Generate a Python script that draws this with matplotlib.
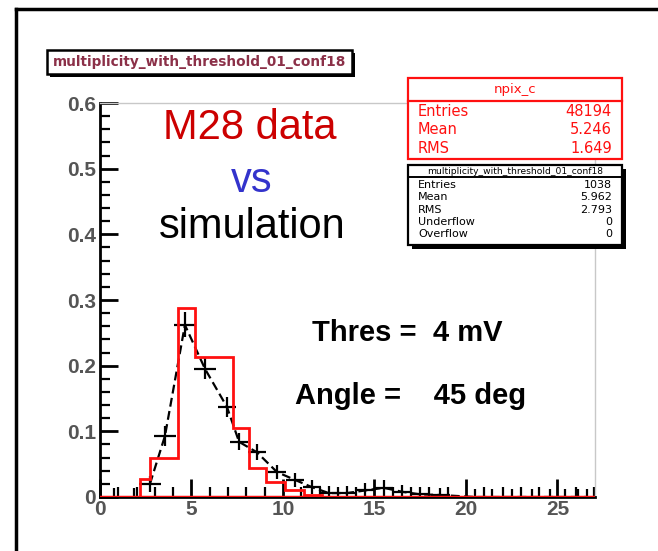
import numpy as np
import matplotlib
matplotlib.use("Agg")
from matplotlib import pyplot as plt
import matplotlib.patches as mpatches
from matplotlib.lines import Line2D

# red histogram (npix_c)
red_edges = [2.2, 2.73, 4.26, 5.19, 7.27, 8.14, 9.07, 10.11, 11.15, 12.13]
red_vals = [0.027, 0.059, 0.288, 0.213, 0.105, 0.044, 0.023, 0.011, 0.003]

# black points (multiplicity_with_threshold_01_conf18)
blk_x = [0.77, 1.86, 2.73, 3.55, 4.64, 5.74, 6.94, 7.6, 8.58, 9.67, 10.66, 11.58,
         12.5, 13.5, 14.5, 15.5, 16.5, 17.5, 18.6, 20.5, 21.4, 22.5, 23.6, 24.6, 25.4, 26.1, 26.6]
blk_y = [0.0, 0.0, 0.02, 0.093, 0.262, 0.195, 0.137, 0.084, 0.068, 0.038, 0.026, 0.015,
         0.006, 0.006, 0.01, 0.014, 0.008, 0.004, 0.003, 0.0, 0.0, 0.0, 0.0, 0.0, 0.0, 0.0, 0.0]
blk_yerr = [0.013, 0.013, 0.012, 0.015, 0.019, 0.016, 0.015, 0.013, 0.012, 0.011, 0.011, 0.011,
            0.011, 0.011, 0.012, 0.012, 0.011, 0.011, 0.011, 0.012, 0.012, 0.012, 0.012, 0.012, 0.012, 0.012, 0.012]
blk_xerr = [0.0, 0.0, 0.6, 0.6, 0.6, 0.6, 0.5, 0.5, 0.5, 0.5, 0.5, 0.5,
            0.5, 0.5, 0.5, 0.5, 0.5, 0.5, 0.5, 0.0, 0.0, 0.0, 0.0, 0.0, 0.0, 0.0, 0.0]

red_stats = [("Entries", "48194"), ("Mean", "5.246"), ("RMS", "1.649")]
blk_stats = [("Entries", "1038"), ("Mean", "5.962"), ("RMS", "2.793"),
             ("Underflow", "0"), ("Overflow", "0")]
hname = "multiplicity_with_threshold_01_conf18"

W, H = 658, 551
fig = plt.figure(figsize=(W / 100, H / 100), dpi=100)

def fx(x):
    return x / W

def fy(y):
    return 1 - y / H

ax = fig.add_axes([fx(100), fy(497), (595 - 100) / W, (497 - 103) / H])
ax.set_xlim(0, 27.05)
ax.set_ylim(0, 0.6)

ax.errorbar(blk_x, blk_y, xerr=blk_xerr, yerr=blk_yerr, fmt='none', ecolor='black',
            elinewidth=1.6, zorder=3)
ax.plot(blk_x[2:], blk_y[2:], color='black', ls=(0, (4, 2)), lw=1.6, zorder=3)
ax.stairs(red_vals, red_edges, color='#ff1010', lw=2, zorder=4)
ax.axhline(0, color='#ff1010', lw=2.5, zorder=5)

for s in ['top', 'right']:
    ax.spines[s].set_color('#c8c8c8')
    ax.spines[s].set_linewidth(1)
ax.spines['left'].set_linewidth(2)
ax.spines['bottom'].set_linewidth(2)

ax.set_xticks(range(0, 26, 5))
ax.set_xticks(range(0, 28), minor=True)
ax.set_yticks(np.arange(0, 0.61, 0.1))
ax.set_yticks(np.arange(0, 0.601, 0.02), minor=True)
ax.set_yticklabels(['0', '0.1', '0.2', '0.3', '0.4', '0.5', '0.6'])
ax.tick_params(which='major', direction='in', length=13, width=2, labelsize=15,
               labelcolor='#555555', pad=3)
ax.tick_params(which='minor', direction='in', length=7, width=1.6)
ax.tick_params(axis='x', which='major', pad=2)
for lab in ax.get_xticklabels() + ax.get_yticklabels():
    lab.set_fontweight('bold')
    lab.set_family('Liberation Sans')

# outer slide frame
fig.add_artist(Line2D([fx(16), fx(16)], [fy(9), 0], color='black', lw=2.5))
fig.add_artist(Line2D([fx(16), 1], [fy(9), fy(9)], color='black', lw=2.5))

def box(x0, y0, x1, y1, ec, shadow=0, lw=1.5):
    if shadow:
        fig.add_artist(mpatches.Rectangle((fx(x0 + shadow), fy(y1 + shadow)),
                                          (x1 - x0) / W, (y1 - y0) / H,
                                          fc='black', ec='black', lw=0))
    fig.add_artist(mpatches.Rectangle((fx(x0), fy(y1)), (x1 - x0) / W, (y1 - y0) / H,
                                      fc='white', ec=ec, lw=lw))

# title box
box(47, 50, 352, 74, 'black', shadow=3, lw=1.8)
fig.text(fx(200), fy(62), hname, color='#8b3048', fontsize=9.8, fontweight='bold',
         ha='center', va='center')

# red stats box
box(408, 78, 622, 159, '#ff1010', lw=1.6)
fig.add_artist(Line2D([fx(408), fx(622)], [fy(101), fy(101)], color='#ff1010', lw=1.6))
fig.text(fx(515), fy(89), "npix_c", color='#ff1010', fontsize=9.5, ha='center', va='center')
for i, (k, v) in enumerate(red_stats):
    yy = 112 + i * 18
    fig.text(fx(418), fy(yy), k, color='#ff1010', fontsize=10.5, ha='left', va='center')
    fig.text(fx(612), fy(yy), v, color='#ff1010', fontsize=10.5, ha='right', va='center')

# black stats box
box(408, 165, 622, 245, 'black', shadow=4, lw=1.6)
fig.add_artist(Line2D([fx(408), fx(622)], [fy(177), fy(177)], color='black', lw=1.4))
fig.text(fx(515), fy(171), hname, color='black', fontsize=6.6, ha='center', va='center')
for i, (k, v) in enumerate(blk_stats):
    yy = 185 + i * 12.3
    fig.text(fx(418), fy(yy), k, color='black', fontsize=8, ha='left', va='center')
    fig.text(fx(612), fy(yy), v, color='black', fontsize=8, ha='right', va='center')

# slide annotations
fig.text(fx(250), fy(128), "M28 data", color='#cc0000', fontsize=30,
         family='Liberation Sans', ha='center', va='center')
fig.text(fx(252), fy(181), "vs", color='#3333cc', fontsize=30,
         family='Liberation Sans', ha='center', va='center')
fig.text(fx(252), fy(227), "simulation", color='black', fontsize=30,
         family='Liberation Sans', ha='center', va='center')
fig.text(fx(312), fy(333), "Thres =  4 mV", color='black', fontsize=21, fontweight='bold',
         family='Liberation Sans', ha='left', va='center')
fig.text(fx(295), fy(396), "Angle =    45 deg", color='black', fontsize=21, fontweight='bold',
         family='Liberation Sans', ha='left', va='center')

fig.savefig("out.png", dpi=100)
